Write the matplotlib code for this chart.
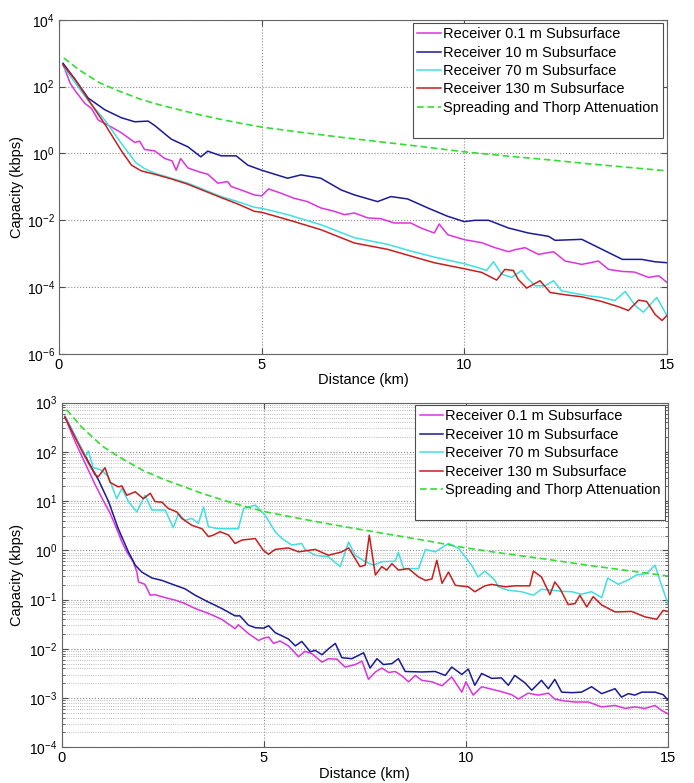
# -*- coding: utf-8 -*-
"""
Capacidade x distancia para receptores em varias profundidades
"""

import numpy as np
import matplotlib
matplotlib.use("Agg")
import matplotlib.pyplot as plt
from matplotlib.ticker import LogLocator, NullLocator
from matplotlib.lines import Line2D

plt.rcParams['font.family'] = ['Liberation Sans', 'DejaVu Sans']
plt.rcParams['mathtext.fontset'] = 'custom'
plt.rcParams['mathtext.rm'] = 'Liberation Sans'
plt.rcParams['mathtext.it'] = 'Liberation Sans:italic'
plt.rcParams['mathtext.bf'] = 'Liberation Sans:bold'

# valores: distancia (km) e log10 da capacidade (kbps)
labels = ['Receiver 0.1 m Subsurface', 'Receiver 10 m Subsurface',
          'Receiver 70 m Subsurface', 'Receiver 130 m Subsurface',
          'Spreading and Thorp Attenuation']
cores = ['#dd33dd', '#1a1a98', '#3fe0e0', '#c81e1e', '#33dd33']

# curva de espalhamento + Thorp (igual nos dois graficos)
d_thorp = [0.12, 0.5, 1.0, 1.5, 2.0, 2.5, 3.0, 3.5, 4.0, 4.5, 5.0, 6.0, 7.0,
           8.0, 9.0, 10.0, 11.0, 12.0, 13.0, 14.0, 15.0]
c_thorp = [2.86, 2.50, 2.12, 1.86, 1.63, 1.45, 1.30, 1.15, 1.02, 0.90, 0.79,
           0.63, 0.48, 0.34, 0.20, 0.05, -0.07, -0.18, -0.30, -0.41, -0.52]

# ---- grafico de cima ----
d1_mag = [0.1, 0.27, 0.39, 0.64, 0.8, 0.97, 1.21, 1.54, 1.87, 1.99, 2.11, 2.36,
          2.61, 2.79, 2.89, 3.0, 3.18, 3.43, 3.67, 3.92, 4.16, 4.25, 4.49, 4.82,
          5.0, 5.17, 5.48, 5.8, 6.13, 6.46, 6.79, 7.04, 7.29, 7.62, 7.94, 8.27,
          8.68, 8.93, 9.26, 9.38, 9.59, 10.0, 10.43, 10.76, 11.09, 11.25, 11.5,
          11.83, 12.2, 12.49, 12.9, 13.31, 13.56, 13.89, 14.2, 14.55, 14.8, 15.0]
c1_mag = [2.67, 2.12, 1.89, 1.50, 1.35, 1.00, 0.85, 0.62, 0.33, 0.37, 0.12,
          0.08, -0.15, -0.22, -0.50, -0.15, -0.43, -0.54, -0.62, -0.89, -0.84,
          -0.99, -1.09, -1.24, -1.27, -1.06, -1.19, -1.34, -1.44, -1.63, -1.73,
          -1.83, -1.78, -1.93, -1.95, -2.08, -2.08, -2.23, -2.38, -2.11, -2.43,
          -2.58, -2.67, -2.82, -2.94, -2.88, -2.82, -3.02, -2.94, -3.22, -3.32,
          -3.22, -3.47, -3.53, -3.55, -3.71, -3.66, -3.86]

d1_blu = [0.1, 0.39, 0.72, 1.13, 1.54, 1.87, 2.2, 2.36, 2.77, 3.18, 3.5, 3.67,
          4.0, 4.37, 4.66, 5.0, 5.64, 5.97, 6.46, 6.96, 7.29, 7.86, 8.19, 8.6,
          9.1, 9.59, 10.0, 10.26, 10.6, 11.09, 11.58, 12.08, 12.24, 12.9, 13.4,
          13.9, 14.38, 14.7, 15.0]
c1_blu = [2.70, 2.23, 1.66, 1.31, 1.07, 0.95, 0.97, 0.84, 0.43, 0.20, -0.10,
          0.07, -0.07, -0.07, -0.35, -0.50, -0.74, -0.64, -0.74, -1.09, -1.24,
          -1.44, -1.29, -1.36, -1.63, -1.88, -2.04, -2.00, -2.00, -2.23, -2.38,
          -2.48, -2.60, -2.57, -2.87, -3.17, -3.17, -3.24, -3.27]

d1_cia = [0.1, 0.39, 0.72, 1.13, 1.54, 1.9, 2.11, 2.36, 2.77, 3.18, 3.59, 4.0,
          4.41, 4.82, 5.0, 5.64, 6.46, 7.29, 8.11, 8.68, 9.26, 10.0, 10.35,
          10.55, 10.72, 10.92, 11.17, 11.42, 11.54, 11.75, 11.99, 12.2, 12.4,
          12.73, 13.06, 13.39, 13.72, 13.97, 14.22, 14.42, 14.75, 15.0]
c1_cia = [2.62, 2.13, 1.58, 1.00, 0.30, -0.28, -0.45, -0.59, -0.74, -0.89,
          -1.09, -1.29, -1.44, -1.61, -1.64, -1.83, -2.13, -2.52, -2.72, -2.92,
          -3.10, -3.30, -3.42, -3.50, -3.24, -3.61, -3.71, -3.50, -3.71, -3.96,
          -3.96, -3.81, -4.11, -4.19, -4.26, -4.31, -4.40, -4.13, -4.56, -4.75,
          -4.31, -4.85]

d1_ver = [0.1, 0.39, 0.72, 1.13, 1.54, 1.79, 2.03, 2.36, 2.77, 3.18, 3.59, 4.0,
          4.41, 4.82, 5.0, 5.64, 6.46, 7.29, 8.11, 8.68, 9.26, 10.0, 10.43,
          10.8, 11.0, 11.21, 11.33, 11.54, 11.7, 11.87, 12.12, 12.49, 12.9,
          13.39, 13.81, 14.05, 14.3, 14.5, 14.71, 14.88, 15.0]
c1_ver = [2.65, 2.23, 1.62, 0.88, 0.08, -0.35, -0.52, -0.62, -0.76, -0.92,
          -1.12, -1.32, -1.51, -1.73, -1.76, -1.98, -2.28, -2.68, -2.87, -3.07,
          -3.27, -3.45, -3.56, -3.79, -3.47, -3.50, -3.77, -4.03, -3.92, -3.81,
          -4.16, -4.23, -4.29, -4.43, -4.59, -4.70, -4.39, -4.43, -4.82, -5.00,
          -4.85]

# ---- grafico de baixo ----
d2_mag = [0.08, 0.33, 0.58, 0.83, 1.03, 1.2, 1.36, 1.49, 1.61, 1.77, 1.86, 1.9,
          2.06, 2.19, 2.31, 2.56, 2.81, 3.05, 3.3, 3.63, 3.96, 4.29, 4.37, 4.62,
          4.87, 5.0, 5.12, 5.24, 5.4, 5.61, 5.86, 6.02, 6.19, 6.44, 6.6, 6.81,
          7.01, 7.26, 7.43, 7.59, 7.76, 7.92, 8.09, 8.25, 8.42, 8.58, 8.75,
          8.91, 9.16, 9.41, 9.65, 9.9, 10.0, 10.18, 10.39, 10.64, 10.88, 11.13,
          11.3, 11.54, 11.79, 12.04, 12.2, 12.45, 12.7, 13.03, 13.36, 13.69,
          13.94, 14.18, 14.43, 14.68, 14.84, 15.0]
c2_mag = [2.71, 2.21, 1.77, 1.33, 1.01, 0.75, 0.44, 0.17, -0.03, -0.23, -0.44,
          -0.64, -0.69, -0.91, -0.90, -0.96, -1.01, -1.08, -1.18, -1.28, -1.40,
          -1.59, -1.51, -1.69, -1.83, -1.78, -1.76, -1.89, -1.84, -1.94, -2.16,
          -2.05, -2.10, -2.27, -2.20, -2.21, -2.37, -2.32, -2.25, -2.62, -2.47,
          -2.39, -2.48, -2.46, -2.55, -2.67, -2.54, -2.64, -2.67, -2.75, -2.57,
          -2.88, -2.67, -2.94, -2.77, -2.82, -2.87, -2.93, -3.02, -2.90, -2.94,
          -2.90, -3.02, -3.06, -3.08, -3.08, -3.18, -3.15, -3.21, -3.18, -3.21,
          -3.15, -3.25, -3.32]

d2_blu = [0.08, 0.33, 0.66, 0.91, 1.16, 1.4, 1.65, 1.82, 1.98, 2.23, 2.48,
          2.81, 3.05, 3.3, 3.63, 3.96, 4.29, 4.41, 4.62, 4.79, 5.0, 5.12, 5.28,
          5.61, 5.78, 5.94, 6.15, 6.27, 6.44, 6.6, 6.77, 6.93, 7.18, 7.47, 7.63,
          7.8, 7.96, 8.17, 8.33, 8.5, 8.91, 9.24, 9.49, 9.65, 9.9, 10.06, 10.22,
          10.39, 10.64, 10.88, 11.05, 11.21, 11.46, 11.63, 11.87, 12.04, 12.2,
          12.37, 12.62, 12.86, 13.11, 13.36, 13.69, 13.85, 14.02, 14.18, 14.35,
          14.68, 14.88, 15.0]
c2_blu = [2.71, 2.31, 1.80, 1.43, 0.99, 0.44, -0.03, -0.30, -0.44, -0.56,
          -0.61, -0.71, -0.78, -0.91, -1.05, -1.18, -1.33, -1.33, -1.52, -1.57,
          -1.58, -1.53, -1.67, -1.80, -1.94, -1.85, -2.06, -2.03, -2.12, -2.00,
          -1.89, -2.18, -2.20, -2.08, -2.39, -2.20, -2.32, -2.30, -2.20, -2.46,
          -2.47, -2.46, -2.54, -2.37, -2.52, -2.41, -2.74, -2.50, -2.60, -2.59,
          -2.74, -2.54, -2.69, -2.84, -2.64, -2.81, -2.62, -2.88, -2.89, -2.88,
          -2.77, -2.91, -2.81, -2.98, -2.91, -2.94, -2.88, -2.88, -2.93, -3.04]

d2_cia = [0.08, 0.33, 0.58, 0.66, 0.78, 0.99, 1.16, 1.36, 1.49, 1.65, 1.86,
          2.06, 2.23, 2.56, 2.76, 2.89, 3.05, 3.22, 3.38, 3.51, 3.63, 3.88,
          4.37, 4.5, 4.79, 4.87, 5.03, 5.28, 5.45, 5.69, 5.94, 6.02, 6.27, 6.6,
          6.89, 7.1, 7.26, 7.51, 7.71, 7.92, 8.25, 8.33, 8.46, 8.83, 9.0, 9.24,
          9.57, 9.82, 10.14, 10.3, 10.47, 10.72, 10.8, 11.05, 11.38, 11.67,
          11.87, 12.12, 12.37, 12.62, 12.86, 13.11, 13.36, 13.51, 13.77, 14.02,
          14.22, 14.47, 14.68, 14.84, 15.0]
c2_cia = [2.73, 2.34, 1.90, 2.02, 1.68, 1.63, 1.49, 1.05, 1.26, 0.99, 0.78,
          1.12, 0.82, 0.82, 0.46, 0.75, 0.61, 0.65, 0.55, 0.88, 0.48, 0.44,
          0.44, 0.85, 0.92, 0.85, 0.72, 0.38, 0.24, 0.11, 0.14, 0.02, -0.10,
          -0.13, -0.33, 0.17, -0.10, -0.23, -0.30, -0.23, -0.22, -0.04, -0.37,
          -0.37, 0.02, -0.03, 0.14, 0.04, -0.30, -0.54, -0.42, -0.61, -0.74,
          -0.81, -0.84, -0.91, -0.79, -0.81, -0.83, -0.84, -0.89, -0.84, -0.96,
          -0.56, -0.69, -0.60, -0.50, -0.47, -0.30, -0.71, -1.08]

d2_ver = [0.08, 0.5, 0.83, 0.91, 1.07, 1.2, 1.4, 1.49, 1.61, 1.82, 2.02, 2.19,
          2.31, 2.48, 2.64, 2.85, 2.97, 3.22, 3.47, 3.63, 3.75, 3.92, 4.13,
          4.29, 4.46, 4.79, 4.99, 5.12, 5.28, 5.61, 5.86, 6.27, 6.6, 6.93, 7.1,
          7.38, 7.51, 7.61, 7.76, 7.92, 8.04, 8.17, 8.33, 8.58, 8.83, 9.0, 9.16,
          9.28, 9.41, 9.57, 9.74, 10.06, 10.22, 10.47, 10.64, 10.97, 11.21,
          11.58, 11.67, 11.87, 12.08, 12.2, 12.33, 12.53, 12.7, 12.82, 12.99,
          13.15, 13.36, 13.69, 14.1, 14.43, 14.72, 14.88, 15.0]
c2_ver = [2.71, 2.02, 1.53, 1.50, 1.68, 1.38, 1.29, 1.31, 1.12, 1.19, 1.05,
          1.16, 0.99, 0.98, 0.85, 0.78, 0.65, 0.51, 0.44, 0.28, 0.31, 0.38,
          0.31, 0.14, 0.21, 0.24, 0.00, -0.08, 0.02, 0.05, -0.03, 0.02, -0.10,
          -0.03, 0.05, -0.33, -0.30, 0.31, -0.50, -0.33, -0.40, -0.27, -0.40,
          -0.37, -0.54, -0.61, -0.58, -0.20, -0.67, -0.44, -0.71, -0.74, -0.84,
          -0.72, -0.69, -0.74, -0.72, -0.72, -0.42, -0.54, -0.90, -0.64, -0.78,
          -1.10, -1.08, -0.91, -1.15, -0.94, -1.11, -1.25, -1.24, -1.35, -1.40,
          -1.22, -1.24]

cima = [(d1_mag, c1_mag), (d1_blu, c1_blu), (d1_cia, c1_cia), (d1_ver, c1_ver)]
baixo = [(d2_mag, c2_mag), (d2_blu, c2_blu), (d2_cia, c2_cia), (d2_ver, c2_ver)]


def grafico(ax, series, ylim, yticks, menores, ylab_x):
    for i, (d, c) in enumerate(series):
        ax.plot(d, 10**np.array(c), '-', color=cores[i], lw=1.1, label=labels[i])
    ln, = ax.plot(d_thorp, 10**np.array(c_thorp), '--', color=cores[4],
                  lw=1.2, label=labels[4])
    ln.set_dashes((4, 2.2))
    ax.set_yscale('log')
    ax.set_xlim(0, 15)
    ax.set_ylim(*ylim)
    ax.set_xticks([0, 5, 10, 15])
    ax.set_yticks(yticks)
    if menores:
        ax.yaxis.set_minor_locator(LogLocator(base=10, subs=np.arange(2, 10), numticks=20))
        ax.grid(True, which='minor', axis='y', ls=':', lw=0.6, color='0.65')
    else:
        ax.yaxis.set_minor_locator(NullLocator())
    ax.grid(True, which='major', ls=':', lw=0.8, color='0.55')
    ax.tick_params(which='both', direction='in', top=True, right=True,
                   labelsize=10, colors='0.3', labelcolor='black', pad=3)
    ax.tick_params(axis='x', labelsize=10.5)
    ax.tick_params(which='major', length=4)
    ax.tick_params(which='minor', length=2.5)
    for s in ax.spines.values():
        s.set_color('0.4')
    ax.set_xlabel('Distance (km)', fontsize=10.5, labelpad=1)
    ax.set_ylabel('Capacity (kbps)', fontsize=10.5)
    ax.yaxis.set_label_coords(ylab_x, 0.5)

    # legenda estilo matlab, com uma linha vazia no fim
    h, l = ax.get_legend_handles_labels()
    h.append(Line2D([], [], color='none'))
    l.append(' ')
    return h, l


fig = plt.figure(figsize=(6.94, 7.83), dpi=100)
ax1 = fig.add_axes([0.085, 0.548, 0.876, 0.4266])
ax2 = fig.add_axes([0.0889, 0.0456, 0.8736, 0.4401])

h1, l1 = grafico(ax1, cima, (1e-6, 1e4), [1e-6, 1e-4, 1e-2, 1e0, 1e2, 1e4], False, -0.058)
h2, l2 = grafico(ax2, baixo, (1e-4, 1e3), [1e-4, 1e-3, 1e-2, 1e-1, 1e0, 1e1, 1e2, 1e3], True, -0.063)

for ax, h, l, ancora in [(ax1, h1, l1, (0.993, 0.991)), (ax2, h2, l2, (0.995, 0.993))]:
    leg = ax.legend(h, l, loc='upper right', bbox_to_anchor=ancora, borderaxespad=0,
                    fontsize=10.5, handlelength=1.6, handletextpad=0.15,
                    labelspacing=0.3, borderpad=0.3, fancybox=False,
                    framealpha=1, edgecolor='0.3')
    leg.get_frame().set_linewidth(0.8)

fig.savefig('out.png', dpi=100)
